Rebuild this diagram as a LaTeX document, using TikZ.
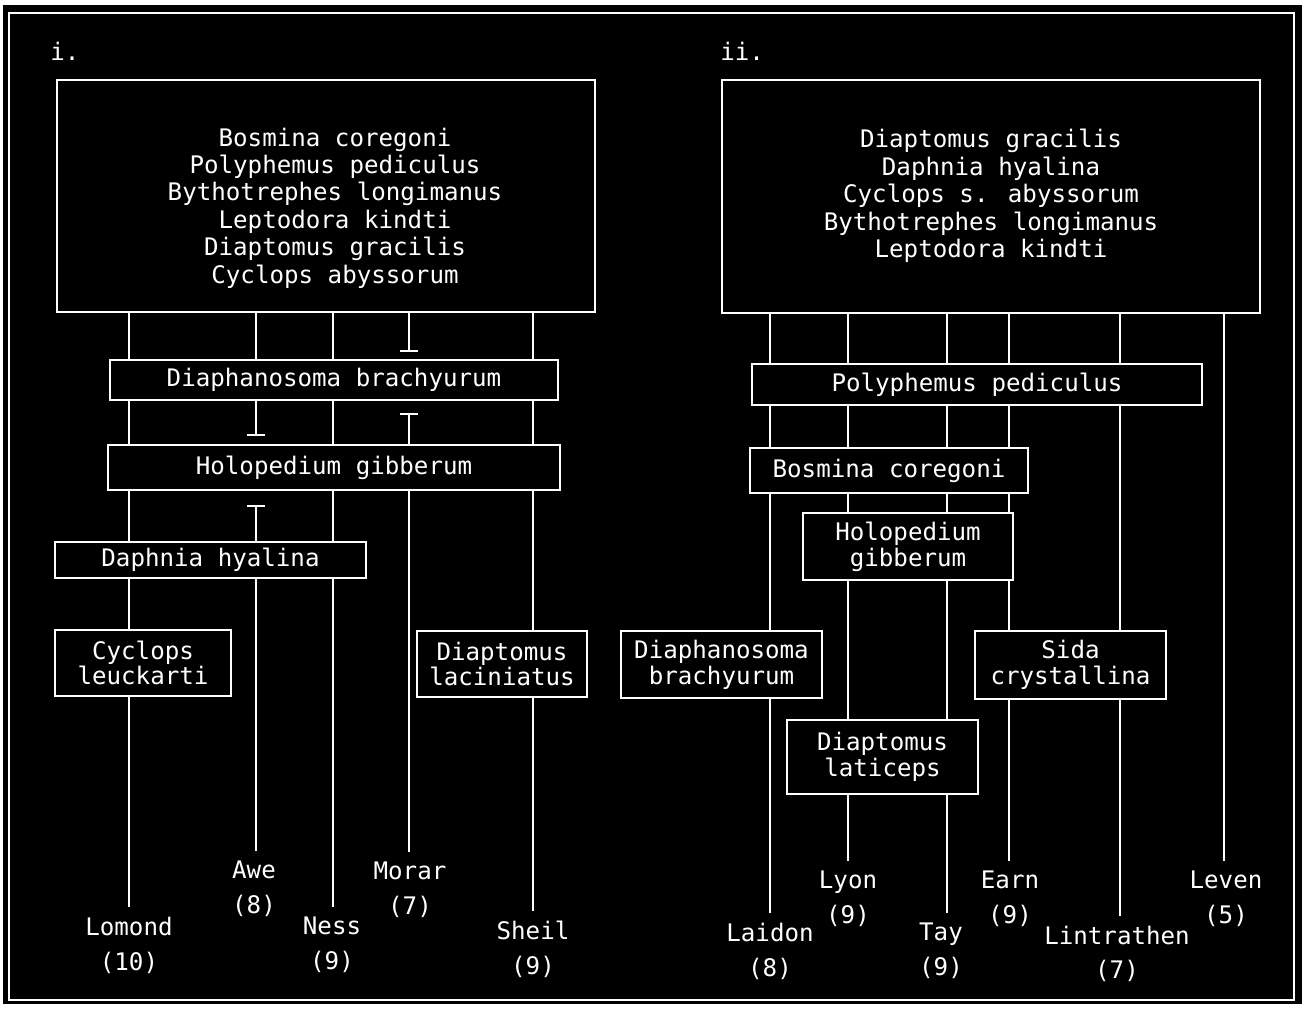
\documentclass[tikz,border=0pt]{standalone}
\usepackage{fontspec}
\newfontfamily\dotfont{DejaVu Sans Mono}
\usetikzlibrary{arrows.meta}
\begin{document}
\begin{tikzpicture}[x=0.02cm,y=-0.02cm,
  ln/.style={draw=white, line width=0.9pt},
  tbar/.style={ln, -{Bar[width=0.36cm, line width=0.9pt]}},
  lbl/.style={font=\dotfont\fontsize{13.75}{14.7}\selectfont, text=white, inner sep=0pt},
  box/.style={draw=white, line width=0.9pt, fill=black, inner sep=0pt, outer sep=0pt,
              font=\dotfont\fontsize{13.75}{14.7}\selectfont, text=white, align=center},
  toptxt/.style={font=\dotfont\fontsize{13.75}{15.6}\selectfont, text=white, align=center, inner sep=0pt},
  lake/.style={font=\dotfont\fontsize{13.75}{19.8}\selectfont, text=white, align=center,
               inner xsep=0pt, inner ysep=5.4pt, anchor=north}]
\useasboundingbox (0,0) rectangle (1304,1008);
\fill[white] (0,0) rectangle (1304,1008);
\fill[black] (3,5) rectangle (1302,1004);
\draw[white, line width=1.1pt] (9,13) rectangle (1294,1000);

% titles
\node[lbl, anchor=base west] (ti) at (50,60) {i.};
\node[lbl, anchor=base west] (tii) at (720,60) {ii.};

% column coordinates
\coordinate (a1) at (129,0);
\coordinate (a2) at (256,0);
\coordinate (a3) at (333,0);
\coordinate (a4) at (409,0);
\coordinate (a5) at (533,0);
\coordinate (b1) at (770,0);
\coordinate (b2) at (848,0);
\coordinate (b3) at (947,0);
\coordinate (b4) at (1009,0);
\coordinate (b5) at (1120,0);
\coordinate (b6) at (1224,0);

% ---------- panel i ----------
\node[box, minimum width=10.76cm, minimum height=4.64cm] (topL) at (326,196) {};
\node[toptxt] (topLt) at (335,208) {Bosmina coregoni\\Polyphemus pediculus\\Bythotrephes longimanus\\Leptodora kindti\\Diaptomus gracilis\\Cyclops abyssorum};
\node[box, minimum width=8.96cm, minimum height=0.8cm] (diaL) at (334,380) {Diaphanosoma brachyurum};
\node[box, minimum width=9.04cm, minimum height=0.9cm] (holL) at (334,467.5) {Holopedium gibberum};
\node[box, minimum width=6.22cm, minimum height=0.72cm] (dapL) at (210.5,560) {Daphnia hyalina};
\node[box, minimum width=3.52cm, minimum height=1.32cm] (cycL) at (143,663) {Cyclops\\leuckarti};
\node[box, minimum width=3.4cm, minimum height=1.32cm] (lacL) at (502,664) {Diaptomus\\laciniatus};

\node[lake] (lomond) at (129,907) {Lomond\\(10)};
\node[lake] (awe) at (254,851) {Awe\\(8)};
\node[lake] (ness) at (332,907) {Ness\\(9)};
\node[lake] (morar) at (410,852) {Morar\\(7)};
\node[lake] (sheil) at (533,911) {Sheil\\(9)};

\coordinate (t1) at (409,352);
\coordinate (t2) at (256,436);
\coordinate (t3) at (409,413);
\coordinate (t4) at (256,505);

% column a1
\draw[ln] (topL.south -| a1) -- (diaL.north -| a1);
\draw[ln] (diaL.south -| a1) -- (holL.north -| a1);
\draw[ln] (holL.south -| a1) -- (dapL.north -| a1);
\draw[ln] (dapL.south -| a1) -- (cycL.north -| a1);
\draw[ln] (cycL.south -| a1) -- (lomond.north -| a1);
% column a2
\draw[ln] (topL.south -| a2) -- (diaL.north -| a2);
\draw[tbar] (diaL.south -| a2) -- (t2);
\draw[tbar] (dapL.north -| a2) -- (t4);
\draw[ln] (dapL.south -| a2) -- (awe.north -| a2);
% column a3
\draw[ln] (topL.south -| a3) -- (diaL.north -| a3);
\draw[ln] (diaL.south -| a3) -- (holL.north -| a3);
\draw[ln] (holL.south -| a3) -- (dapL.north -| a3);
\draw[ln] (dapL.south -| a3) -- (ness.north -| a3);
% column a4
\draw[tbar] (topL.south -| a4) -- (t1);
\draw[tbar] (holL.north -| a4) -- (t3);
\draw[ln] (holL.south -| a4) -- (morar.north -| a4);
% column a5
\draw[ln] (topL.south -| a5) -- (diaL.north -| a5);
\draw[ln] (diaL.south -| a5) -- (holL.north -| a5);
\draw[ln] (holL.south -| a5) -- (lacL.north -| a5);
\draw[ln] (lacL.south -| a5) -- (sheil.north -| a5);

% ---------- panel ii ----------
\node[box, minimum width=10.76cm, minimum height=4.66cm] (topR) at (991,196.5) {};
\node[toptxt] (topRt) at (991,196) {Diaptomus gracilis\\Daphnia hyalina\\Cyclops s. abyssorum\\Bythotrephes longimanus\\Leptodora kindti};
\node[box, minimum width=9.0cm, minimum height=0.82cm] (polR) at (977,384.5) {Polyphemus pediculus};
\node[box, minimum width=5.56cm, minimum height=0.9cm] (bosR) at (889,470.5) {Bosmina coregoni};
\node[box, minimum width=4.2cm, minimum height=1.34cm] (holR) at (908,546.5) {Holopedium\\gibberum};
\node[box, minimum width=4.02cm, minimum height=1.34cm] (diaR) at (721.5,664.5) {Diaphanosoma\\brachyurum};
\node[box, minimum width=3.82cm, minimum height=1.36cm] (sidR) at (1070.5,665) {Sida\\crystallina};
\node[box, minimum width=3.82cm, minimum height=1.48cm] (latR) at (882.5,757) {Diaptomus\\laticeps};

\node[lake] (laidon) at (770,913) {Laidon\\(8)};
\node[lake] (lyon) at (848,861) {Lyon\\(9)};
\node[lake] (tay) at (941,913) {Tay\\(9)};
\node[lake] (earn) at (1010,861) {Earn\\(9)};
\node[lake] (lintr) at (1117,916) {Lintrathen\\(7)};
\node[lake] (leven) at (1226,861) {Leven\\(5)};

% column b1
\draw[ln] (topR.south -| b1) -- (polR.north -| b1);
\draw[ln] (polR.south -| b1) -- (bosR.north -| b1);
\draw[ln] (bosR.south -| b1) -- (diaR.north -| b1);
\draw[ln] (diaR.south -| b1) -- (laidon.north -| b1);
% column b2
\draw[ln] (topR.south -| b2) -- (polR.north -| b2);
\draw[ln] (polR.south -| b2) -- (bosR.north -| b2);
\draw[ln] (bosR.south -| b2) -- (holR.north -| b2);
\draw[ln] (holR.south -| b2) -- (latR.north -| b2);
\draw[ln] (latR.south -| b2) -- (lyon.north -| b2);
% column b3
\draw[ln] (topR.south -| b3) -- (polR.north -| b3);
\draw[ln] (polR.south -| b3) -- (bosR.north -| b3);
\draw[ln] (bosR.south -| b3) -- (holR.north -| b3);
\draw[ln] (holR.south -| b3) -- (latR.north -| b3);
\draw[ln] (latR.south -| b3) -- (tay.north -| b3);
% column b4
\draw[ln] (topR.south -| b4) -- (polR.north -| b4);
\draw[ln] (polR.south -| b4) -- (bosR.north -| b4);
\draw[ln] (bosR.south -| b4) -- (holR.north -| b4);
\draw[ln] (holR.south -| b4) -- (sidR.north -| b4);
\draw[ln] (sidR.south -| b4) -- (earn.north -| b4);
% column b5
\draw[ln] (topR.south -| b5) -- (polR.north -| b5);
\draw[ln] (polR.south -| b5) -- (sidR.north -| b5);
\draw[ln] (sidR.south -| b5) -- (lintr.north -| b5);
% column b6
\draw[ln] (topR.south -| b6) -- (leven.north -| b6);
\end{tikzpicture}
\end{document}
